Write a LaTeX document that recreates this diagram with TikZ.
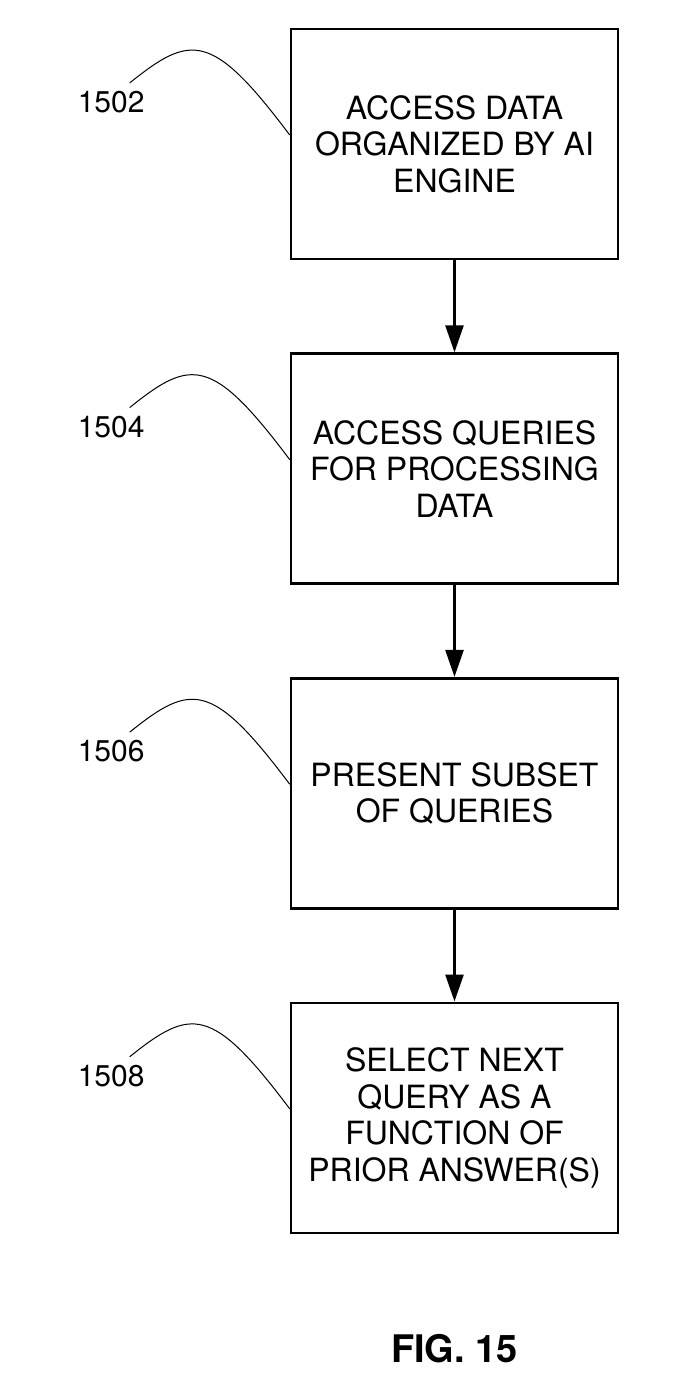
\documentclass[tikz,border=0pt]{standalone}
\usepackage{fontspec}
\setmainfont{TeX Gyre Heros}
\usetikzlibrary{
  positioning,
  arrows.meta,
}
\tikzset{
  node distance= 92pt and 5mm,
  >={Triangle[width=18pt,length=27pt]},
  stepbox/.style={
    rectangle,
    draw,
    line width=2.6pt,
    minimum width=327pt,
    minimum height=230pt,
    align=center,
    font=\fontsize{32}{36.5}\selectfont,
  },
  reflabel/.style={
    inner sep=0pt,
    font=\fontsize{30}{36}\selectfont,
  },
  leader/.style={
    line width=1pt,
  },
  flow/.style={
    ->,
    line width=2.6pt,
  },
}

\begin{document}
\begin{tikzpicture}
  \useasboundingbox (0pt,0pt) rectangle (687pt,-1389pt);
  % steps
  \node [stepbox] (access data) at (454.5pt,-144pt)
    {ACCESS DATA\\ORGANIZED BY AI\\ENGINE};
  \node [stepbox, below=of access data] (access queries)
    {ACCESS QUERIES\\FOR PROCESSING\\DATA};
  \node [stepbox, below=of access queries] (present subset)
    {PRESENT SUBSET\\OF QUERIES};
  \node [stepbox, below=of present subset] (select next)
    {SELECT NEXT\\QUERY AS A\\FUNCTION OF\\PRIOR ANSWER(S)};
  % reference numerals
  \node [reflabel, left=145pt of access data.west, yshift=42pt] (r1502) {1502};
  \node [reflabel, left=145pt of access queries.west, yshift=42pt] (r1504) {1504};
  \node [reflabel, left=145pt of present subset.west, yshift=42pt] (r1506) {1506};
  \node [reflabel, left=145pt of select next.west, yshift=42pt] (r1508) {1508};
  \foreach \r/\b in {r1502/access data, r1504/access queries,
                     r1506/present subset, r1508/select next}
    \draw [leader] ([shift={(-15pt,8pt)}]\r.north east)
      .. controls +(61pt,49pt) and +(-78pt,104pt) .. ([yshift=9pt]\b.west);
  % flow
  \draw [flow] (access data) -- (access queries);
  \draw [flow] (access queries) -- (present subset);
  \draw [flow] (present subset) -- (select next);
  \node [font=\bfseries\fontsize{38}{40}\selectfont, inner sep=0pt]
    (fig) at ([yshift=-115pt]select next.south) {FIG. 15};
\end{tikzpicture}
\end{document}
